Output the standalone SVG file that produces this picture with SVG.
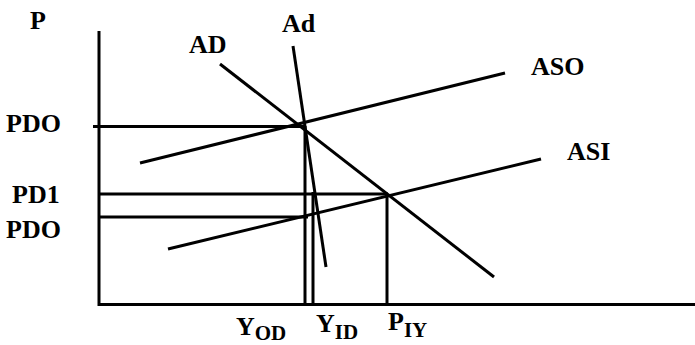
<svg xmlns="http://www.w3.org/2000/svg" width="695" height="345" viewBox="0 0 695 345">
<style>
.l{stroke:#000;stroke-width:3;fill:none;stroke-linecap:butt}
.t{font-family:"Liberation Serif","Times New Roman",serif;font-weight:bold;font-size:26px;fill:#000}
.s{font-size:21px}
</style>
<rect width="695" height="345" fill="#fff"/>
<g id="axes">
<line class="l" x1="99" y1="31" x2="99" y2="306"/>
<line class="l" x1="98" y1="304.5" x2="695" y2="304.5"/>
</g>
<g id="connectors">
<line class="l" x1="93" y1="126.5" x2="304" y2="126.5"/>
<line class="l" x1="99" y1="194" x2="388" y2="194"/>
<line class="l" x1="99" y1="217" x2="308" y2="217"/>
<line class="l" x1="305" y1="126" x2="305" y2="304"/>
<line class="l" x1="313" y1="192" x2="313" y2="304"/>
<line class="l" x1="387" y1="194" x2="387" y2="304"/>
</g>
<g id="ASO"><line class="l" x1="140" y1="163" x2="505" y2="73"/><text class="t" x="531" y="75">ASO</text></g>
<g id="ASI"><line class="l" x1="168" y1="249" x2="541" y2="159"/><text class="t" x="567" y="160">ASI</text></g>
<g id="AD"><line class="l" x1="220" y1="64" x2="494" y2="277"/><text class="t" x="189" y="53">AD</text></g>
<g id="Ad"><line class="l" x1="293" y1="46" x2="326" y2="267"/><text class="t" x="282" y="32">Ad</text></g>
<g id="labels">
<text class="t" x="30" y="29">P</text>
<text class="t" x="6" y="132">PDO</text>
<text class="t" x="12" y="203">PD1</text>
<text class="t" x="6" y="238">PDO</text>
<text class="t" x="236" y="335">Y<tspan class="s" dy="5">OD</tspan></text>
<text class="t" x="316" y="332">Y<tspan class="s" dy="7">ID</tspan></text>
<text class="t" x="388" y="330">P<tspan class="s" dy="7">IY</tspan></text>
</g>
</svg>
